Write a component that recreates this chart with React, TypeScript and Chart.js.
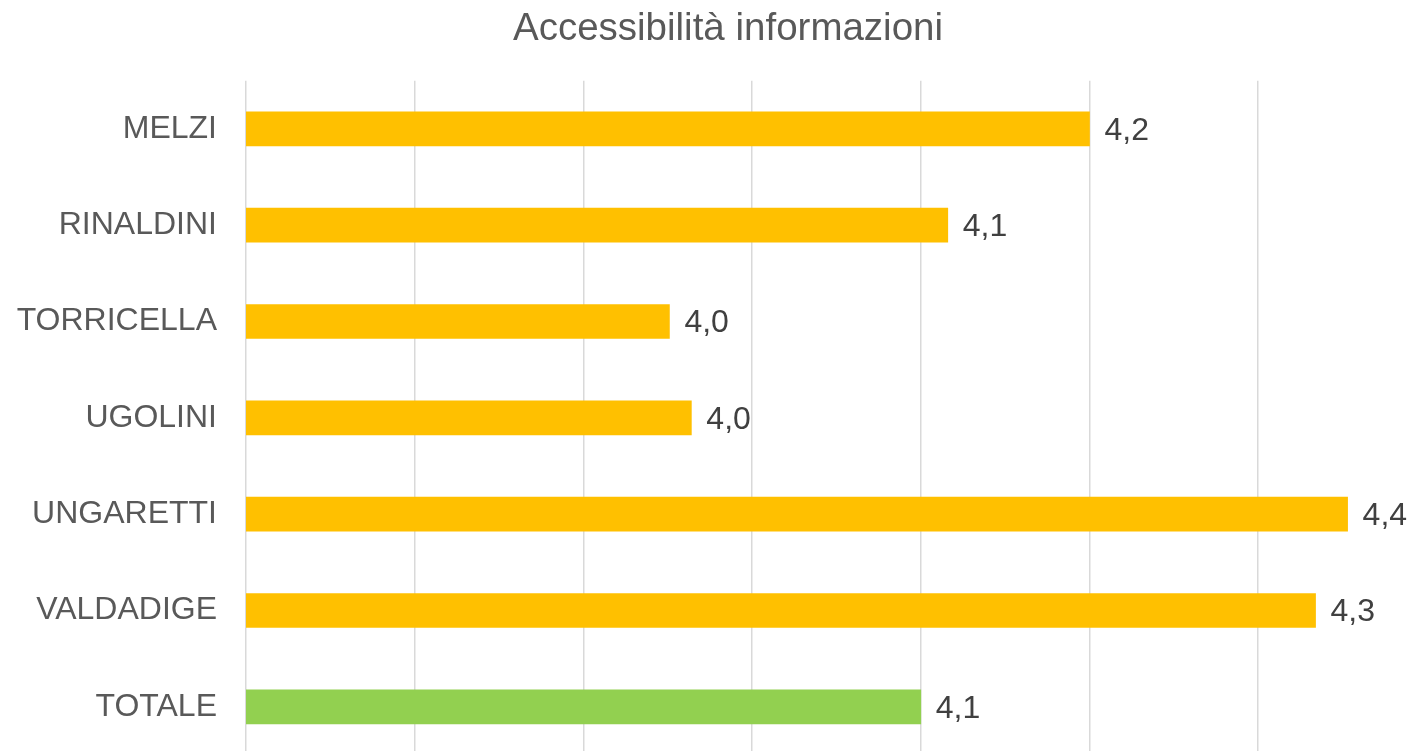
import React, { useEffect, useRef } from "react";
import { Chart, registerables } from "chart.js";

Chart.register(...registerables);

const TITLE = "Accessibilità informazioni";
const categories = ["MELZI", "RINALDINI", "TORRICELLA", "UGOLINI", "UNGARETTI", "VALDADIGE", "TOTALE"];
const values = [4.2, 4.116, 3.951, 3.964, 4.353, 4.334, 4.1];
const barColors = ["#FFC000", "#FFC000", "#FFC000", "#FFC000", "#FFC000", "#FFC000", "#92D050"];
const gridTicks = [3.7, 3.8, 3.9, 4.0, 4.1, 4.2, 4.3];
const X_MIN = 3.7;
const X_MAX = 4.3888;

const FONT = "'Liberation Sans', Arial, sans-serif";

const titlePlugin = {
  id: "customTitle",
  afterDraw(chart: any) {
    const ctx = chart.ctx;
    ctx.save();
    ctx.font = `38.5px ${FONT}`;
    ctx.fillStyle = "#595959";
    ctx.textAlign = "center";
    ctx.textBaseline = "alphabetic";
    ctx.fillText(TITLE, 728, 40);
    ctx.restore();
  },
};

const labelPlugin = {
  id: "valueLabels",
  afterDatasetsDraw(chart: any) {
    const ctx = chart.ctx;
    const meta = chart.getDatasetMeta(0);
    ctx.save();
    ctx.font = `32px ${FONT}`;
    ctx.fillStyle = "#404040";
    ctx.textAlign = "left";
    ctx.textBaseline = "middle";
    meta.data.forEach((bar: any, i: number) => {
      const v = chart.data.datasets[0].data[i] as number;
      ctx.fillText(v.toFixed(1).replace(".", ","), bar.x + 15, bar.y + 2);
    });
    ctx.restore();
  },
};

export default function App() {
  const ref = useRef<HTMLCanvasElement | null>(null);
  useEffect(() => {
    if (!ref.current) return;
    const chart = new Chart(ref.current, {
      type: "bar",
      data: {
        labels: categories,
        datasets: [
          {
            data: values,
            backgroundColor: barColors,
            borderWidth: 0,
            barThickness: 34,
          },
        ],
      },
      options: {
        indexAxis: "y",
        animation: false,
        responsive: false,
        maintainAspectRatio: false,
        layout: { padding: { top: 80.7, right: 0, bottom: 0, left: 0 } },
        plugins: {
          legend: { display: false },
          title: { display: false },
          tooltip: { enabled: false },
        },
        scales: {
          x: {
            min: X_MIN,
            max: X_MAX,
            afterBuildTicks(scale: any) {
              scale.ticks = gridTicks.map((v) => ({ value: v }));
            },
            afterFit(scale: any) {
              scale.height = 0;
              scale.paddingLeft = 0;
              scale.paddingRight = 0;
            },
            ticks: { display: false },
            border: { display: false },
            grid: { color: "#D9D9D9", lineWidth: 1.5, drawTicks: false },
          },
          y: {
            afterFit(scale: any) {
              scale.width = 246;
              scale.paddingTop = 0;
              scale.paddingBottom = 0;
            },
            border: { display: false },
            grid: { display: false, drawTicks: false },
            ticks: {
              padding: 29,
              color: "#595959",
              font: { family: FONT, size: 32 },
            },
          },
        },
      },
      plugins: [titlePlugin, labelPlugin],
    });
    return () => chart.destroy();
  }, []);
  return (
    <div style={{ position: "fixed", left: 0, top: 0, width: 1408, height: 755, background: "#fff" }}>
      <canvas ref={ref} width={1408} height={755} style={{ width: 1408, height: 755, display: "block" }} />
    </div>
  );
}
